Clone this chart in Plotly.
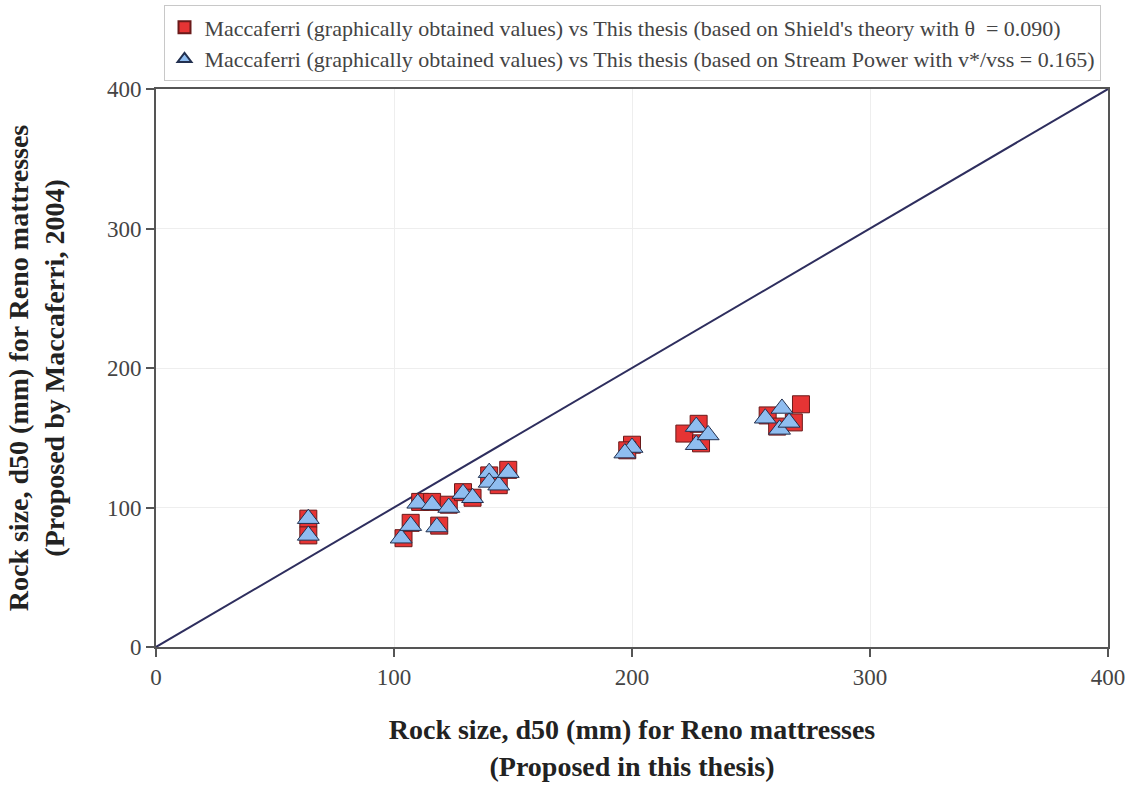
import plotly.graph_objects as go

# Shields-based series (red squares)
shields_x = [64, 64, 104, 107, 119, 111, 116, 123, 129, 133, 140, 144, 148,
             200, 198, 222, 228, 229, 271, 268, 257, 261]
shields_y = [92, 80, 78, 89, 87, 104, 104, 102, 111, 107, 123, 116, 127,
             145, 141, 153, 160, 146, 174, 161, 166, 158]

# Stream-power-based series (blue triangles)
stream_x = [64, 64, 103, 107, 118, 110, 116, 123, 129, 133, 140, 140, 144, 148,
            200, 197, 227, 227, 232, 256, 263, 262, 266]
stream_y = [92, 80, 78, 87, 86, 103, 102, 100, 110, 107, 125, 118, 116, 125,
            143, 139, 158, 145, 152, 164, 171, 156, 161]

line_x = [0, 400]
line_y = [0, 400]

fig = go.Figure()
fig.add_trace(go.Scatter(x=line_x, y=line_y, mode="lines",
                         line=dict(color="#2e2e5e", width=2),
                         showlegend=False, hoverinfo="skip"))
fig.add_trace(go.Scatter(
    x=shields_x, y=shields_y, mode="markers",
    name="Maccaferri (graphically obtained values) vs This thesis (based on Shield's theory with θ  = 0.090)",
    marker=dict(symbol="square", size=17, color="#e63434",
                line=dict(color="#6a1a1a", width=1))))
fig.add_trace(go.Scatter(
    x=stream_x, y=stream_y, mode="markers",
    name="Maccaferri (graphically obtained values) vs This thesis (based on Stream Power with v*/vss = 0.165)",
    marker=dict(symbol="triangle-up", size=19, color="#8fbdf0",
                line=dict(color="#22304f", width=1))))

font = "Liberation Serif, Times New Roman, serif"
fig.update_layout(
    width=1136, height=785,
    margin=dict(l=156, r=28, t=89, b=138, autoexpand=False),
    paper_bgcolor="white", plot_bgcolor="white",
    font=dict(family=font, size=18, color="#222"),
    legend=dict(x=0.5, xanchor="center", xref="paper",
                y=0.993, yanchor="top", yref="container",
                bordercolor="#c8c8c8", borderwidth=1,
                font=dict(family=font, size=22, color="#444"),
                itemsizing="constant", itemwidth=30, tracegroupgap=0),
    showlegend=True,
)
axis_common = dict(
    range=[0, 400], tickvals=[0, 100, 200, 300, 400],
    showgrid=True, gridcolor="#eeeeee", gridwidth=1,
    showline=True, linecolor="#555555", linewidth=2, mirror=True,
    ticks="outside", ticklen=8, tickcolor="#555555", tickwidth=1.5,
    zeroline=False,
    tickfont=dict(family=font, size=23, color="#444"),
)
fig.update_xaxes(**axis_common,
                 title=dict(text="<b>Rock size, d50 (mm) for Reno mattresses<br>(Proposed in this thesis)</b>",
                            font=dict(family=font, size=28, color="#222"), standoff=31))
fig.update_yaxes(**axis_common,
                 title=dict(text="<b>Rock size, d50 (mm) for Reno mattresses<br>(Proposed by Maccaferri, 2004)</b>",
                            font=dict(family=font, size=28, color="#222"), standoff=34))

fig.write_html("out.html")
